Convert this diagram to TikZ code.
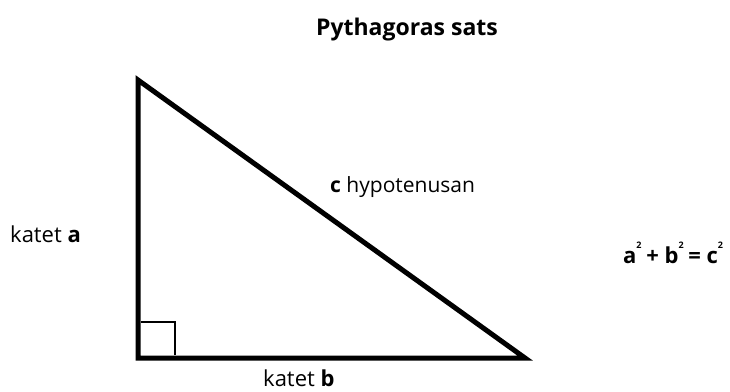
\documentclass[tikz,border=0pt]{standalone}
\usepackage{fontspec}
\setmainfont{Open Sans}
\begin{document}
\begin{tikzpicture}[x=1pt,y=-1pt,
  lbl/.style={inner sep=0pt,anchor=base west,font=\fontsize{21}{24}\selectfont},
  edge/.style={line width=5pt,line join=miter,black},
  rmark/.style={line width=2pt,black}]
\useasboundingbox (0,0) rectangle (730,391);
\coordinate (A) at (138,80);
\coordinate (C) at (138,358);
\coordinate (B) at (525,358);
\draw[edge] (A) -- (C) -- (B) -- cycle;
\coordinate (r1) at (141,322);
\coordinate (r2) at (175,322);
\coordinate (r3) at (175,355);
\draw[rmark] (r1) -- (r2) -- (r3);
\node[inner sep=0pt,anchor=base,font=\fontsize{23}{28}\selectfont\bfseries] (title) at (407,35) {Pythagoras sats};
\node[lbl] (hyp) at (330,192) {\textbf{c} hypotenusan};
\node[lbl,font=\fontsize{22}{24}\selectfont] (ka) at (10,242) {katet \textbf{a}};
\node[lbl,font=\fontsize{22}{24}\selectfont] (kb) at (263,386) {katet \textbf{b}};
\node[inner sep=0pt,anchor=base west,font=\fontsize{22}{24}\selectfont\bfseries] (eq) at (623,263)
  {a\raisebox{15pt}{\fontsize{9}{9}\selectfont 2}\kern-1pt{} + b\raisebox{15pt}{\fontsize{9}{9}\selectfont 2}\kern-1pt{} = c\raisebox{15pt}{\fontsize{9}{9}\selectfont 2}};
\end{tikzpicture}
\end{document}
